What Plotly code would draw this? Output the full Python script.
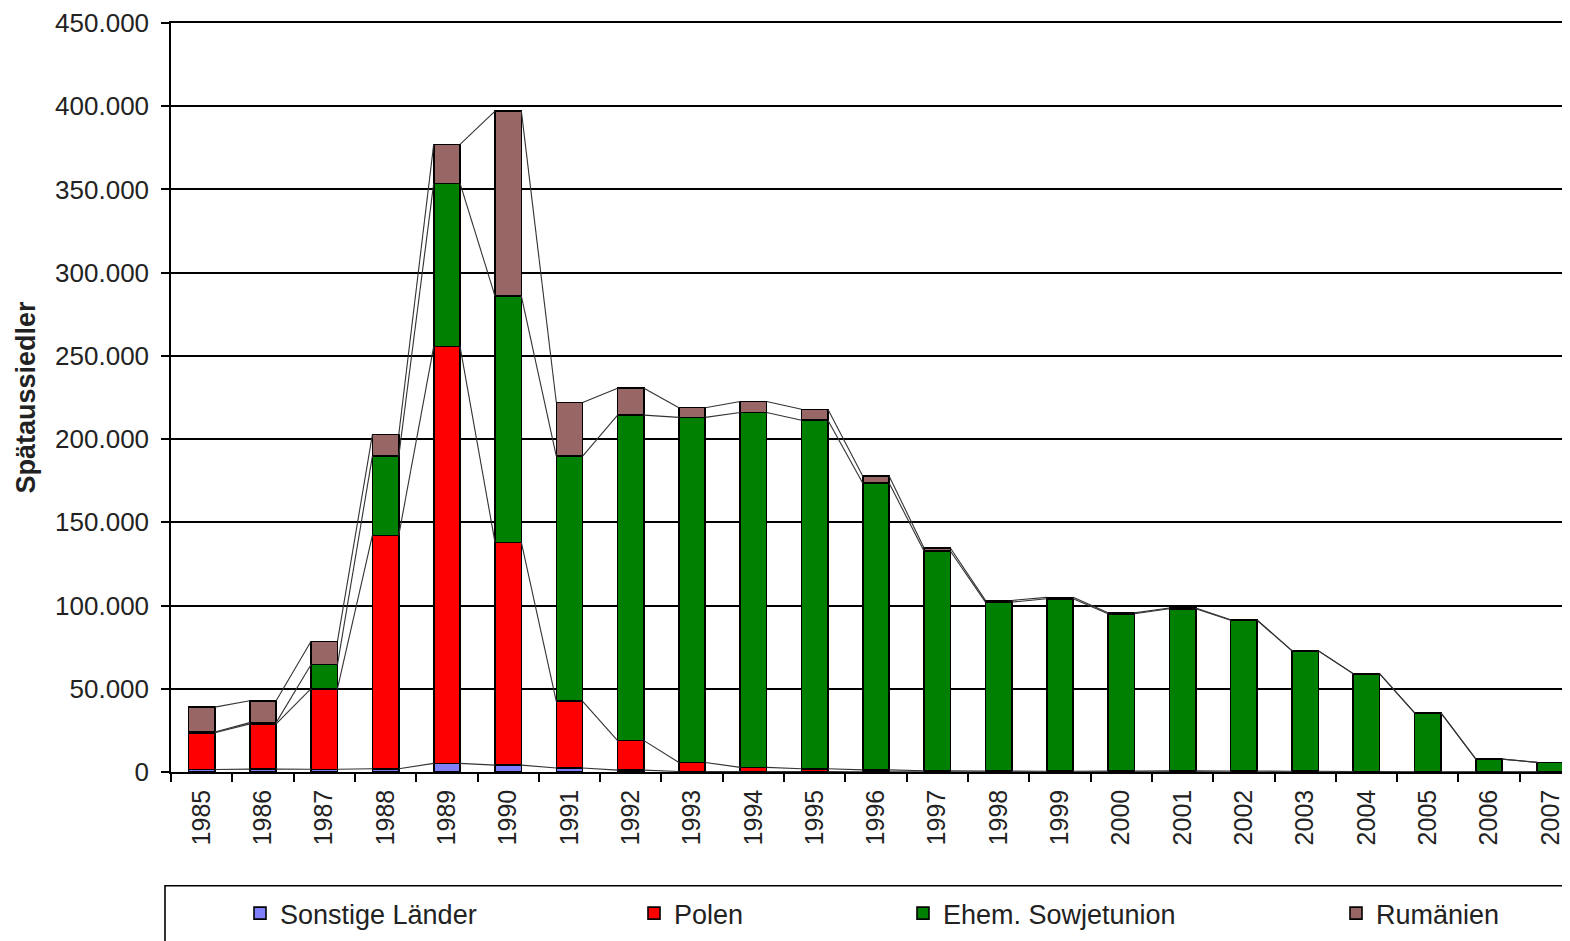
import plotly.graph_objects as go

years = [str(y) for y in range(1985, 2008)]
sonstige = [1509, 1717, 1622, 1973, 5194, 4101, 2368, 1101, 299, 322, 293, 111, 60, 37, 34, 26, 47, 20, 15, 11, 7, 1, 1]
polen = [22075, 27188, 48423, 140226, 250340, 133872, 40129, 17742, 5431, 2440, 1677, 1175, 687, 488, 428, 484, 623, 553, 444, 278, 80, 80, 70]
sowjetunion = [460, 753, 14488, 47572, 98134, 147950, 147320, 195576, 207347, 213214, 209409, 172181, 131895, 101550, 103599, 94558, 97434, 90587, 72289, 58728, 35396, 7626, 5695]
rumaenien = [14924, 13130, 13990, 12902, 23387, 111150, 32178, 16146, 5811, 6615, 6519, 4284, 1777, 1005, 855, 547, 380, 256, 137, 76, 39, 40, 26]

series = [
    ("Sonstige Länder", sonstige, "#8080FF", "legend"),
    ("Polen", polen, "#FF0000", "legend2"),
    ("Ehem. Sowjetunion", sowjetunion, "#008000", "legend3"),
    ("Rumänien", rumaenien, "#996666", "legend4"),
]

FONT = "Liberation Sans, Arial, sans-serif"
BAR_W = 0.43

fig = go.Figure()
for name, vals, col, lg in series:
    fig.add_trace(go.Bar(
        x=years, y=vals, name=name, width=BAR_W,
        marker=dict(color=col, line=dict(color="#000000", width=1.6)),
        legend=lg,
    ))

# Excel-style series lines connecting the tops of each segment
cum = [0] * len(years)
for name, vals, col, lg in series:
    cum = [c + v for c, v in zip(cum, vals)]
    xs, ys = [], []
    for i in range(len(years) - 1):
        xs += [i + BAR_W / 2, i + 1 - BAR_W / 2, None]
        ys += [cum[i], cum[i + 1], None]
    fig.add_trace(go.Scatter(
        x=xs, y=ys, mode="lines", xaxis="x2", showlegend=False,
        line=dict(color="#333333", width=1.1), hoverinfo="skip",
    ))

XR = [-0.5, 22.32]
fig.update_layout(
    width=1562, height=933,
    margin=dict(l=163, r=0, t=13, b=169),
    paper_bgcolor="white", plot_bgcolor="white",
    barmode="stack", bargap=0.57,
    separators=",.",
    font=dict(family=FONT, color="#222222"),
    xaxis=dict(
        type="category", range=XR, tickson="boundaries",
        ticks="outside", ticklen=8, tickwidth=1.5, tickcolor="black",
        tickangle=-90, tickfont=dict(size=25, family=FONT, color="#222222"),
        ticklabelstandoff=6,
        showline=True, linecolor="black", linewidth=1.5, mirror=True,
        showgrid=False, zeroline=False,
    ),
    xaxis2=dict(
        overlaying="x", anchor="y", range=XR, visible=False,
        showgrid=False, zeroline=False,
    ),
    yaxis=dict(
        range=[0, 450000], tick0=0, dtick=50000, tickformat=",d",
        ticks="outside", ticklen=8, tickwidth=1.5, tickcolor="black",
        tickfont=dict(size=26, family=FONT, color="#222222"),
        ticklabelstandoff=7, ticklabeloverflow="allow",
        showline=True, linecolor="black", linewidth=1.5,
        showgrid=True, gridcolor="black", gridwidth=1.5,
        zeroline=False,
        title=dict(text="<b>Spätaussiedler</b>", standoff=12,
                   font=dict(size=27, family=FONT, color="#222222")),
    ),
    shapes=[dict(
        type="rect", xref="paper", yref="paper",
        x0=(165 - 171) / 1399, x1=1.02,
        y0=(772 - 948) / 751, y1=(772 - 886) / 751,
        line=dict(color="black", width=1.6), fillcolor="rgba(0,0,0,0)",
        layer="above",
    )],
)

leg_x = {"legend": 240, "legend2": 634, "legend3": 903, "legend4": 1336}
for key, px in leg_x.items():
    fig.update_layout({key: dict(
        x=(px - 171) / 1399, y=(772 - 914) / 751,
        xanchor="left", yanchor="middle", orientation="h",
        bgcolor="rgba(0,0,0,0)", borderwidth=0,
        font=dict(size=27, family=FONT, color="#222222"),
        itemwidth=30,
    )})

fig.write_html("out.html")
